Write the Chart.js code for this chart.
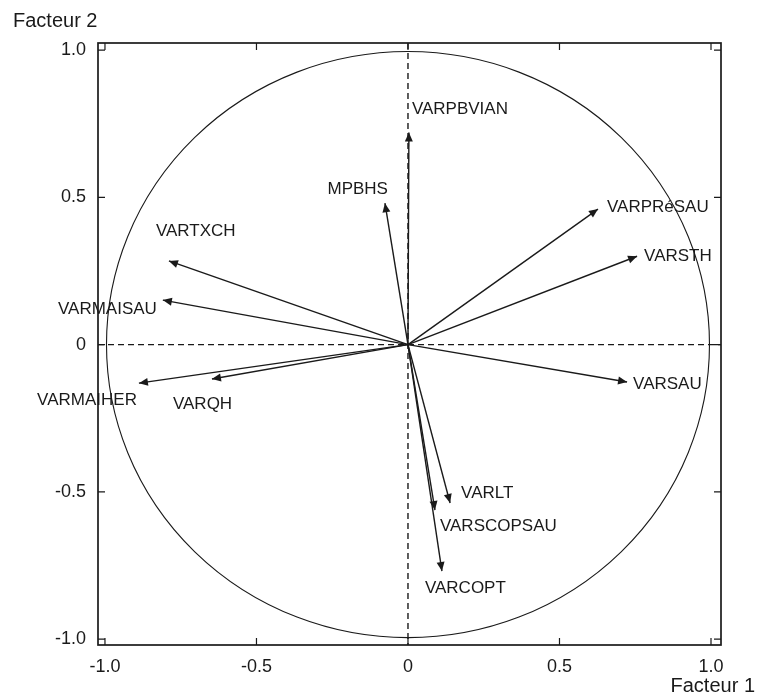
<!DOCTYPE html>
<html>
<head>
<meta charset="utf-8">
<script src="https://cdn.jsdelivr.net/npm/chart.js@4"></script>
<style>
  html, body { margin: 0; padding: 0; background: #fff; }
  #wrap { width: 758px; height: 696px; }
</style>
</head>
<body>
<div id="wrap"><canvas id="cercle"></canvas></div>
<script>
let variables = ['VARPBVIAN', 'MPBHS', 'VARPRéSAU', 'VARSTH', 'VARTXCH', 'VARMAISAU',
                 'VARSAU', 'VARMAIHER', 'VARQH', 'VARLT', 'VARSCOPSAU', 'VARCOPT'];
let facteur1 = [0.003, -0.076, 0.627, 0.756, -0.789, -0.809, 0.723, -0.888, -0.647, 0.139, 0.089, 0.112];
let facteur2 = [0.72, 0.48, 0.46, 0.30, 0.284, 0.151, -0.127, -0.131, -0.117, -0.538, -0.562, -0.769];

let ticksX = [-1.0, -0.5, 0, 0.5, 1.0];
let ticksY = [-1.0, -0.5, 0, 0.5, 1.0];
let etiquettesX = ['-1.0', '-0.5', '0', '0.5', '1.0'];
let etiquettesY = ['-1.0', '-0.5', '0', '0.5', '1.0'];

// where each name sits next to its arrow tip: [align, dx, dy] in px
let placement = {
    'VARPBVIAN': ['left', 3, -23],
    'MPBHS': ['right', 3, -14],
    'VARPRéSAU': ['left', 9, -2],
    'VARSTH': ['left', 7, 0],
    'VARTXCH': ['left', -13, -30],
    'VARMAISAU': ['right', -6, 9],
    'VARSAU': ['left', 6, 2],
    'VARMAIHER': ['right', -2, 17],
    'VARQH': ['left', -39, 25],
    'VARLT': ['left', 11, -10],
    'VARSCOPSAU': ['left', 5, 16],
    'VARCOPT': ['left', -17, 17]
};

let police = '"Liberation Sans", Arial, sans-serif';
let encre = '#1a1a1a';

let jeux = variables.map((nom, i) => ({
    label: nom,
    data: [{ x: 0, y: 0 }, { x: facteur1[i], y: facteur2[i] }],
    showLine: true,
    borderColor: encre,
    borderWidth: 1.4,
    pointRadius: 0,
    pointHoverRadius: 0
}));

let cadre = {
    id: 'cadre',
    beforeDatasetsDraw(chart) {
        const { ctx, chartArea: a, scales: { x, y } } = chart;
        const x0 = x.getPixelForValue(0), y0 = y.getPixelForValue(0);
        ctx.save();
        // cercle des corrélations
        ctx.strokeStyle = encre;
        ctx.lineWidth = 1.1;
        ctx.beginPath();
        ctx.ellipse(x0, y0, (x.getPixelForValue(0.995) - x0), (y0 - y.getPixelForValue(0.995)), 0, 0, Math.PI * 2);
        ctx.stroke();
        // axes en pointillés
        ctx.lineWidth = 1.4;
        ctx.setLineDash([6, 4]);
        ctx.beginPath();
        ctx.moveTo(a.left, y0); ctx.lineTo(a.right, y0);
        ctx.moveTo(x0, a.top); ctx.lineTo(x0, a.bottom);
        ctx.stroke();
        ctx.restore();
    },
    afterDatasetsDraw(chart) {
        const ctx = chart.ctx;
        ctx.save();
        ctx.fillStyle = encre;
        ctx.font = '17px ' + police;
        ctx.textBaseline = 'middle';
        chart.data.datasets.forEach((ds, i) => {
            const pts = chart.getDatasetMeta(i).data;
            const p0 = pts[0], p1 = pts[1];
            const ang = Math.atan2(p1.y - p0.y, p1.x - p0.x);
            const L = 9, W = 4;
            ctx.beginPath();
            ctx.moveTo(p1.x, p1.y);
            ctx.lineTo(p1.x - L * Math.cos(ang) + W * Math.sin(ang), p1.y - L * Math.sin(ang) - W * Math.cos(ang));
            ctx.lineTo(p1.x - L * Math.cos(ang) - W * Math.sin(ang), p1.y - L * Math.sin(ang) + W * Math.cos(ang));
            ctx.closePath();
            ctx.fill();
            const pl = placement[ds.label];
            ctx.textAlign = pl[0];
            ctx.fillText(ds.label, p1.x + pl[1], p1.y + pl[2]);
        });
        ctx.restore();
    },
    afterDraw(chart) {
        const { ctx, chartArea: a, scales: { x, y } } = chart;
        ctx.save();
        ctx.strokeStyle = encre;
        // petites graduations vers l'intérieur
        ctx.lineWidth = 1.2;
        ctx.beginPath();
        ticksX.forEach(v => {
            const px = x.getPixelForValue(v);
            ctx.moveTo(px, a.bottom); ctx.lineTo(px, a.bottom - 7);
            ctx.moveTo(px, a.top); ctx.lineTo(px, a.top + 7);
        });
        ticksY.forEach(v => {
            const py = y.getPixelForValue(v);
            ctx.moveTo(a.left, py); ctx.lineTo(a.left + 7, py);
            ctx.moveTo(a.right, py); ctx.lineTo(a.right - 7, py);
        });
        ctx.stroke();
        // cadre
        ctx.lineWidth = 1.7;
        ctx.strokeRect(a.left, a.top, a.right - a.left, a.bottom - a.top);
        // titres des axes
        ctx.fillStyle = encre;
        ctx.font = '20px ' + police;
        ctx.textBaseline = 'middle';
        ctx.textAlign = 'left';
        ctx.fillText('Facteur 2', 13, 21);
        ctx.textAlign = 'right';
        ctx.fillText('Facteur 1', 755, 686);
        ctx.restore();
    }
};

let ctx = document.getElementById('cercle').getContext('2d');

let monGraphique = new Chart(ctx, {
    type: 'scatter',
    data: { datasets: jeux },
    options: {
        responsive: true,
        maintainAspectRatio: false,
        animation: false,
        events: [],
        layout: { padding: { top: 43, right: 37, left: 0, bottom: 0 } },
        plugins: { legend: { display: false }, tooltip: { enabled: false } },
        scales: {
            x: {
                type: 'linear',
                min: -1.023,
                max: 1.033,
                afterBuildTicks: s => { s.ticks = ticksX.map(v => ({ value: v })); },
                afterFit: s => { s.height = 51; },
                grid: { display: false, drawTicks: false },
                border: { display: false },
                ticks: {
                    autoSkip: false,
                    maxRotation: 0,
                    padding: 11,
                    color: encre,
                    font: { family: police, size: 18 },
                    callback: (v, i) => etiquettesX[i]
                }
            },
            y: {
                type: 'linear',
                min: -1.02,
                max: 1.024,
                afterBuildTicks: s => { s.ticks = ticksY.map(v => ({ value: v })); },
                afterFit: s => { s.width = 98; },
                grid: { display: false, drawTicks: false },
                border: { display: false },
                ticks: {
                    autoSkip: false,
                    padding: 12,
                    color: encre,
                    font: { family: police, size: 18 },
                    callback: (v, i) => etiquettesY[i]
                }
            }
        }
    },
    plugins: [cadre]
});
</script>
</body>
</html>
